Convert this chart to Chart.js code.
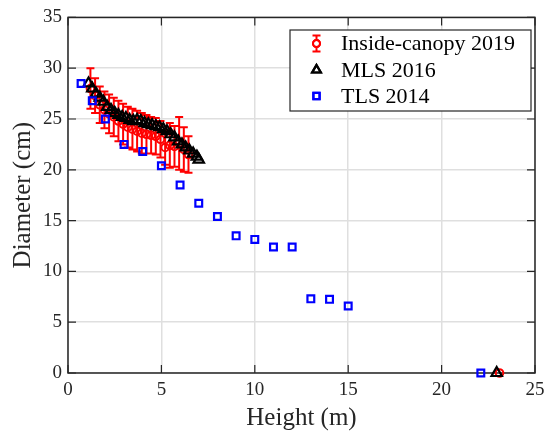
<!DOCTYPE html>
<html>
<head>
<meta charset="utf-8">
<script src="https://cdn.jsdelivr.net/npm/chart.js@4"></script>
<style>
  html, body { margin: 0; padding: 0; background: #fff; }
  #wrap { width: 544px; height: 433px; position: relative; }
</style>
</head>
<body>
<div id="wrap"><canvas id="myChart" width="544" height="433"></canvas></div>
<script>
// chart data

const xTicks = [0, 5, 10, 15, 20, 25];
const yTicks = [0, 5, 10, 15, 20, 25, 30, 35];

// Inside-canopy 2019 (mean with error bars)
const canopyHeight = [1.2, 1.45, 1.7, 1.95, 2.2, 2.45, 2.7, 2.95, 3.2, 3.45, 3.7, 3.95, 4.2, 4.45, 4.7, 4.95, 5.2, 5.45, 5.7, 5.95, 6.2, 6.45, 23.1];
const canopyDiameter = [28.0, 27.3, 26.4, 25.9, 25.5, 25.2, 24.8, 24.5, 24.2, 24.0, 23.8, 23.6, 23.5, 23.4, 23.3, 23.0, 22.2, 22.4, 22.3, 22.6, 22.0, 21.5, 0];
const canopyError = [2.0, 1.7, 1.8, 1.8, 1.9, 1.9, 2.0, 2.0, 2.0, 2.0, 2.0, 2.0, 1.9, 1.8, 1.8, 1.8, 1.7, 2.2, 2.0, 2.6, 2.2, 1.8, 0];

// MLS 2016
const mlsHeight = [1.1, 1.3, 1.5, 1.7, 1.9, 2.1, 2.3, 2.5, 2.7, 2.9, 3.1, 3.3, 3.5, 3.7, 3.9, 4.1, 4.3, 4.5, 4.7, 4.9, 5.1, 5.3, 5.5, 5.7, 5.9, 6.1, 6.3, 6.5, 6.7, 6.9, 7.0, 22.95];
const mlsDiameter = [28.5, 28.0, 27.5, 27.1, 26.7, 26.2, 25.9, 25.6, 25.4, 25.2, 25.1, 24.9, 24.8, 24.9, 24.8, 24.6, 24.5, 24.4, 24.3, 24.2, 24.0, 23.8, 23.5, 23.2, 22.8, 22.5, 22.2, 21.9, 21.6, 21.3, 21.0, 0];

// TLS 2014
const tlsHeight = [0.7, 1.3, 2.0, 3.0, 4.0, 5.0, 6.0, 7.0, 8.0, 9.0, 10.0, 11.0, 12.0, 13.0, 14.0, 15.0, 22.1];
const tlsDiameter = [28.5, 26.8, 25.0, 22.5, 21.8, 20.4, 18.5, 16.7, 15.4, 13.5, 13.15, 12.4, 12.4, 7.3, 7.25, 6.6, 0];

const serif = "'Liberation Serif', 'Times New Roman', serif";
const axisColor = '#262626';

function toPoints(xs, ys) {
  return xs.map((x, i) => ({ x: x, y: ys[i] }));
}

// error bars, box, inward ticks and legend
const errorBars = {
  id: 'errorBars',
  beforeDatasetsDraw(chart) {
    const ctx = chart.ctx;
    const xs = chart.scales.x, ys = chart.scales.y;
    const area = chart.chartArea;

    // box around plot
    ctx.save();
    ctx.strokeStyle = axisColor;
    ctx.lineWidth = 1.5;
    ctx.strokeRect(area.left, area.top, area.right - area.left, area.bottom - area.top);

    // inward ticks on all sides
    const tl = 8;
    ctx.lineWidth = 1.2;
    ctx.beginPath();
    xTicks.forEach(v => {
      const px = xs.getPixelForValue(v);
      ctx.moveTo(px, area.bottom); ctx.lineTo(px, area.bottom - tl);
      ctx.moveTo(px, area.top); ctx.lineTo(px, area.top + tl);
    });
    yTicks.forEach(v => {
      const py = ys.getPixelForValue(v);
      ctx.moveTo(area.left, py); ctx.lineTo(area.left + tl, py);
      ctx.moveTo(area.right, py); ctx.lineTo(area.right - tl, py);
    });
    ctx.stroke();

    // error bars for inside-canopy
    ctx.strokeStyle = '#ff0000';
    ctx.lineWidth = 2;
    const cap = 4;
    ctx.beginPath();
    canopyHeight.forEach((h, i) => {
      if (!canopyError[i]) return;
      const px = xs.getPixelForValue(h);
      const top = ys.getPixelForValue(canopyDiameter[i] + canopyError[i]);
      const bot = ys.getPixelForValue(canopyDiameter[i] - canopyError[i]);
      ctx.moveTo(px, top); ctx.lineTo(px, bot);
      ctx.moveTo(px - cap, top); ctx.lineTo(px + cap, top);
      ctx.moveTo(px - cap, bot); ctx.lineTo(px + cap, bot);
    });
    ctx.stroke();
    ctx.restore();
  },
  afterDraw(chart) {
    const ctx = chart.ctx;
    const bx = 290, by = 30, bw = 241, bh = 81;
    ctx.save();
    ctx.fillStyle = '#ffffff';
    ctx.fillRect(bx, by, bw, bh);
    ctx.strokeStyle = axisColor;
    ctx.lineWidth = 1.2;
    ctx.strokeRect(bx, by, bw, bh);

    const rows = [
      { text: 'Inside-canopy 2019', y: 43.5 },
      { text: 'MLS 2016', y: 70 },
      { text: 'TLS 2014', y: 96 }
    ];
    const ix = 316.5;

    // red marker with error bar
    ctx.strokeStyle = '#ff0000';
    ctx.lineWidth = 2;
    ctx.beginPath();
    ctx.moveTo(ix, rows[0].y - 8); ctx.lineTo(ix, rows[0].y + 8);
    ctx.moveTo(ix - 4, rows[0].y - 8); ctx.lineTo(ix + 4, rows[0].y - 8);
    ctx.moveTo(ix - 4, rows[0].y + 8); ctx.lineTo(ix + 4, rows[0].y + 8);
    ctx.stroke();
    Chart.helpers.drawPoint(ctx, { pointStyle: 'circle', radius: 3.5, borderWidth: 2 }, ix, rows[0].y);
    ctx.stroke();

    ctx.strokeStyle = '#000000';
    ctx.lineWidth = 2.2;
    Chart.helpers.drawPoint(ctx, { pointStyle: 'triangle', radius: 5, borderWidth: 2.2 }, ix, rows[1].y);
    ctx.stroke();

    ctx.strokeStyle = '#0000ff';
    ctx.lineWidth = 2.2;
    Chart.helpers.drawPoint(ctx, { pointStyle: 'rect', radius: 4.4, borderWidth: 2.2 }, ix, rows[2].y);
    ctx.stroke();

    ctx.fillStyle = '#000000';
    ctx.font = '22px ' + serif;
    ctx.textBaseline = 'middle';
    ctx.textAlign = 'left';
    rows.forEach(r => ctx.fillText(r.text, 341, r.y + 1));
    ctx.restore();
  }
};

const ctx = document.getElementById('myChart').getContext('2d');
const chart = new Chart(ctx, {
  type: 'scatter',
  data: {
    datasets: [
      {
        label: 'Inside-canopy 2019',
        data: toPoints(canopyHeight, canopyDiameter),
        pointStyle: 'circle',
        pointRadius: 3.8,
        borderWidth: 2,
        borderColor: '#ff0000',
        backgroundColor: 'rgba(0,0,0,0)',
        order: 3,
        clip: false
      },
      {
        label: 'MLS 2016',
        data: toPoints(mlsHeight, mlsDiameter),
        pointStyle: 'triangle',
        pointRadius: 6,
        borderWidth: 2.2,
        borderColor: '#000000',
        backgroundColor: 'rgba(0,0,0,0)',
        order: 2,
        clip: false
      },
      {
        label: 'TLS 2014',
        data: toPoints(tlsHeight, tlsDiameter),
        pointStyle: 'rect',
        pointRadius: 4.8,
        borderWidth: 2.2,
        borderColor: '#0000ff',
        backgroundColor: 'rgba(0,0,0,0)',
        order: 1,
        clip: false
      }
    ]
  },
  options: {
    responsive: false,
    animation: false,
    layout: { padding: { top: 10, right: 9, left: 0, bottom: 0 } },
    plugins: {
      legend: { display: false },
      tooltip: { enabled: false }
    },
    scales: {
      x: {
        type: 'linear',
        min: 0,
        max: 25,
        afterFit: (scale) => { scale.height = 60; scale.paddingRight = 0; scale.paddingLeft = 0; },
        ticks: { stepSize: 5, color: axisColor, padding: 6, maxRotation: 0, font: { family: serif, size: 19 } },
        grid: { color: '#dfdfdf', lineWidth: 1.5, drawTicks: false },
        border: { display: false },
        title: { display: true, text: 'Height (m)', color: '#262626', padding: { top: 0, bottom: 0 }, font: { family: serif, size: 25 } }
      },
      y: {
        type: 'linear',
        min: 0,
        max: 35,
        afterFit: (scale) => { scale.width = 68; },
        ticks: { stepSize: 5, color: axisColor, padding: 6, font: { family: serif, size: 19 } },
        grid: { color: '#dfdfdf', lineWidth: 1.5, drawTicks: false },
        border: { display: false },
        title: { display: true, text: 'Diameter (cm)', color: '#262626', padding: { top: 8, bottom: 0 }, font: { family: serif, size: 25 } }
      }
    }
  },
  plugins: [errorBars]
});
</script>
</body>
</html>
